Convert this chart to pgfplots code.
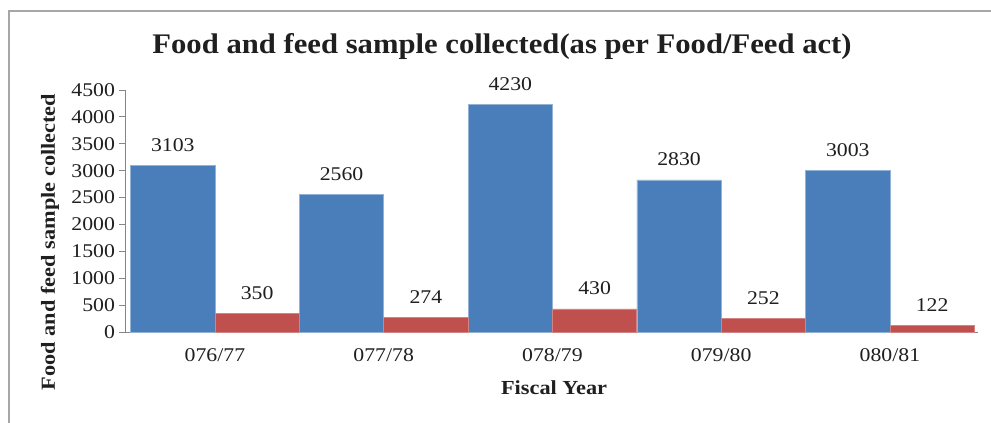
\documentclass[border=0pt]{standalone}
\usepackage{pgfplots}
\pgfplotsset{compat=1.18}
\usepackage{fontspec}
\setmainfont{Liberation Serif}[FakeStretch=1.12]
\newfontfamily\titlefont{Liberation Serif}[FakeStretch=1.08]
\definecolor{barblue}{HTML}{4A7EBB}
\definecolor{barred}{HTML}{C0504D}
\definecolor{axisgray}{HTML}{868686}
\definecolor{framegray}{HTML}{A6A6A6}
\begin{document}
\begin{tikzpicture}
\useasboundingbox (0,0) rectangle (991bp,-423bp);
\draw[framegray, line width=1.2bp] (9bp,-423bp) -- (9bp,-11bp) -- (991bp,-11bp);
\begin{axis}[
  anchor=south west, at={(125bp,-332bp)},
  width=853bp, height=242bp, scale only axis,
  xmin=-0.533, xmax=4.522, ymin=0, ymax=4500,
  ybar, bar width=84.3bp,
  axis x line*=bottom, axis y line*=left,
  axis line style={axisgray, line width=1bp},
  xtick={0,1,2,3,4},
  xticklabels={076/77,077/78,078/79,079/80,080/81},
  ytick={0,500,...,4500},
  major x tick style={draw=none},
  major y tick style={axisgray, line width=0.8bp},
  tick align=outside, major tick length=6bp,
  /pgf/number format/assume math mode=true,
  /pgf/number format/1000 sep={},
  tick label style={font=\fontsize{19.5}{21}\selectfont, text=black!88},
  xticklabel style={yshift=-7bp},
  yticklabel style={xshift=-0.5bp},
  title={\titlefont\bfseries Food and feed sample collected(as per Food/Feed act)},
  title style={font=\fontsize{28.5}{30}\selectfont, anchor=base,
    at={(rel axis cs:0.442,1)}, yshift=31bp, text=black!88},
  xlabel={\textbf{Fiscal Year}},
  xlabel style={font=\fontsize{20}{22}\selectfont, anchor=center,
    at={(axis description cs:0.503,-0.231)}, text=black!88},
  ylabel={\textbf{Food and feed sample collected}},
  ylabel style={font=\fontsize{20}{22}\selectfont, anchor=center,
    at={(axis description cs:-0.088,0.372)}, text=black!88},
  nodes near coords,
  every node near coord/.append style={anchor=base, yshift=14bp,
    font=\fontsize{19.5}{21}\selectfont, text=black!88},
]
\addplot[fill=barblue, draw=barblue!60!white, line width=0.5bp, bar shift=-42.15bp]
  coordinates {(0,3103) (1,2560) (2,4230) (3,2830) (4,3003)};
\addplot[fill=barred, draw=barred!70!white, line width=0.5bp, bar shift=42.15bp]
  coordinates {(0,350) (1,274) (2,430) (3,252) (4,122)};
\end{axis}
\end{tikzpicture}
\end{document}
